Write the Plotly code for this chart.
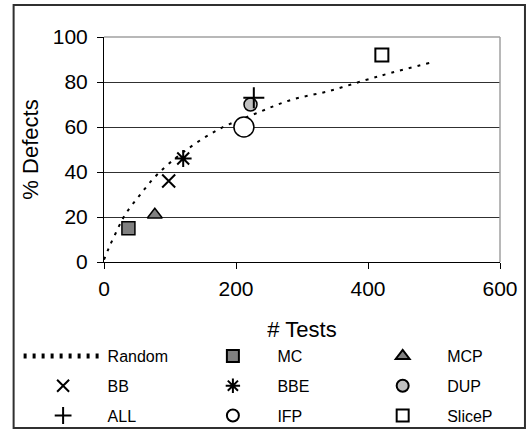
import plotly.graph_objects as go

# Random (trend) curve
random_x = [0, 7, 18, 32, 55, 81, 121, 174, 230, 283, 341, 398, 434, 493]
random_y = [1, 6, 13, 21, 30, 39, 49, 59, 66, 72, 76, 81, 84, 88.5]

# Technique points: name -> (tests, % defects)
names = ["MC", "MCP", "BB", "BBE", "DUP", "ALL", "IFP", "SliceP"]
tests = [37, 77, 98, 120, 222, 227, 212, 421]
defects = [15, 21, 36, 46, 70, 73, 60, 92]

x_ticks = [0, 200, 400, 600]
y_ticks = [0, 20, 40, 60, 80, 100]

FONT = "Liberation Sans, Arial, sans-serif"

styles = {
    "MC": dict(symbol="square", size=13, color="#808080", line=dict(color="black", width=1.5)),
    "MCP": dict(symbol="triangle-up", size=13, color="#808080", line=dict(color="black", width=1.5)),
    "BB": dict(symbol="x-thin", size=13, color="black", line=dict(color="black", width=2)),
    "BBE": dict(symbol="asterisk", size=14, color="black", line=dict(color="black", width=2)),
    "DUP": dict(symbol="circle", size=13, color="#c0c0c0", line=dict(color="black", width=1.5)),
    "ALL": dict(symbol="cross-thin", size=15, color="black", line=dict(color="black", width=2)),
    "IFP": dict(symbol="circle", size=20, color="white", line=dict(color="black", width=1.5)),
    "SliceP": dict(symbol="square", size=13, color="white", line=dict(color="black", width=2)),
}

# legend columns
legend_of = {"MC": "legend2", "BBE": "legend2", "IFP": "legend2",
             "MCP": "legend3", "DUP": "legend3", "SliceP": "legend3",
             "BB": "legend", "ALL": "legend"}

fig = go.Figure()
fig.add_trace(go.Scatter(
    x=random_x, y=random_y, mode="lines", name="Random",
    line=dict(color="black", width=2, dash="3px,6px", shape="spline"),
    legend="legend", legendgroup="Random",
))
for n, xv, yv in zip(names, tests, defects):
    fig.add_trace(go.Scatter(
        x=[xv], y=[yv], mode="markers", name=n,
        marker=styles[n], legend=legend_of[n], legendgroup=n,
    ))

L, R, T, B = 103.5, 27, 37, 168
W, H = 527, 430
pw, ph = W - L - R, H - T - B

def px(xp):
    return (xp - L) / pw

def py(yp):
    return (H - B - yp) / ph

leg_common = dict(
    orientation="v", xanchor="left", yanchor="top",
    font=dict(family=FONT, size=16, color="black"),
    itemwidth=79, itemsizing="constant", tracegroupgap=6,
    traceorder="grouped", bgcolor="rgba(0,0,0,0)",
)
ytop = py(339)

fig.update_layout(
    width=W, height=H,
    margin=dict(l=L, r=R, t=T, b=B, autoexpand=False),
    paper_bgcolor="white", plot_bgcolor="white",
    font=dict(family=FONT, color="black"),
    legend=dict(x=px(18), y=ytop, **leg_common),
    legend2=dict(x=px(188), y=ytop, **leg_common),
    legend3=dict(x=px(358), y=ytop, **leg_common),
    xaxis=dict(
        range=[0, 600], tickvals=x_ticks, showgrid=False, zeroline=False,
        showline=True, linecolor="black", linewidth=1,
        ticks="outside", ticklen=6, tickcolor="black",
        tickfont=dict(family=FONT, size=21), ticklabelstandoff=2,
        title=dict(text="# Tests", font=dict(family=FONT, size=22), standoff=22),
    ),
    yaxis=dict(
        range=[0, 100], tickvals=y_ticks, showgrid=True, gridcolor="#303030", gridwidth=1,
        zeroline=False, showline=True, linecolor="black", linewidth=1,
        ticks="outside", ticklen=6, tickcolor="black",
        tickfont=dict(family=FONT, size=21), ticklabelstandoff=5,
        title=dict(text="% Defects", font=dict(family=FONT, size=22), standoff=8),
    ),
    shapes=[
        dict(type="line", xref="paper", yref="paper", x0=0, x1=1, y0=1, y1=1,
             line=dict(color="#a0a0a0", width=1.5)),
        dict(type="line", xref="paper", yref="paper", x0=1, x1=1, y0=0, y1=1,
             line=dict(color="#a0a0a0", width=1.5)),
        dict(type="line", xref="paper", yref="paper",
             x0=px(13), x1=px(525), y0=py(5), y1=py(5),
             line=dict(color="#303030", width=2)),
        dict(type="rect", xref="paper", yref="paper",
             x0=px(13), x1=px(525), y0=py(5), y1=py(428),
             line=dict(color="#303030", width=2)),
    ],
)

fig.write_html("out.html", config={"displayModeBar": False})
